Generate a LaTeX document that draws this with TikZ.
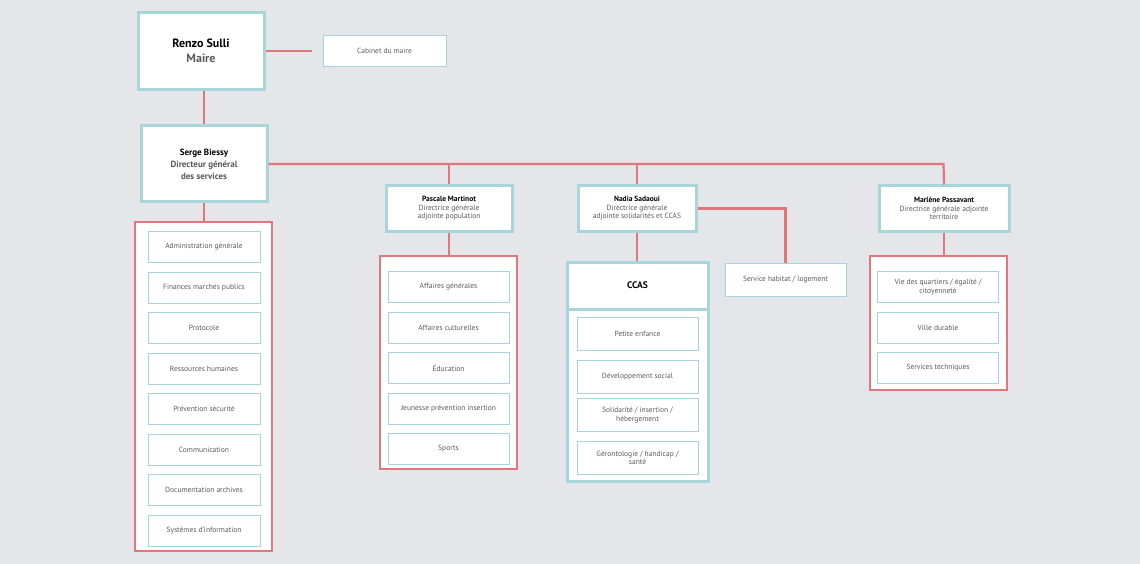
\documentclass[tikz,border=0pt]{standalone}
\usepackage{fontspec}
\setmainfont{PT Sans}
\usetikzlibrary{positioning}
\definecolor{bgc}{HTML}{E5E6EA}
\definecolor{teal}{HTML}{A8D5D9}
\definecolor{redl}{HTML}{DF777C}
\definecolor{txt}{HTML}{5A5A5A}
\tikzset{
    link/.style={draw=redl, line width=2.2pt},
    headbox/.style={draw=teal, line width=3pt, fill=white, align=center, font=\fontsize{7.5}{8.5}\selectfont, text=txt},
    itembox/.style={draw=teal, line width=0.8pt, fill=white, align=center, minimum width=121pt, minimum height=31pt, inner sep=1pt, font=\fontsize{7.5}{8.5}\selectfont, text=txt},
    groupbox/.style={draw=redl, line width=2pt},
}
\begin{document}
\begin{tikzpicture}[x=1pt, y=-1pt]
    \fill[bgc] (0,0) rectangle (1140,564);
    \useasboundingbox (0,0) rectangle (1140,564);
    % top level
    \node[headbox, minimum width=126pt, minimum height=77pt, font=\fontsize{12}{15}\selectfont\bfseries] (maire) at (201,51) {\color{black}Renzo Sulli\\ Maire};
    \node[itembox, minimum width=123pt, minimum height=31pt] (cabinet) at (384.5,50.5) {Cabinet du maire};
    \node[headbox, minimum width=126pt, minimum height=76pt, font=\fontsize{9}{12}\selectfont\bfseries] (dgs) at (204,164) {\color{black}Serge Biessy\\ Directeur général\\ des services};
    \node[headbox, minimum width=126pt, minimum height=45pt] (pop) at (449,208.5) {\textbf{\color{black}Pascale Martinot}\\ Directrice générale\\ adjointe population};
    \node[headbox, minimum width=118pt, minimum height=45pt] (sol) at (637,208.5) {\textbf{\color{black}Nadia Sadaoui}\\ Directrice générale\\ adjointe solidarités et CCAS};
    \node[headbox, minimum width=130pt, minimum height=45pt] (ter) at (944,208.5) {\textbf{\color{black}Marlène Passavant}\\ Directrice générale adjointe\\ territoire};
    \node[itembox, minimum width=121pt, minimum height=33pt] (habitat) at (785.5,279.5) {Service habitat / logement};
    % connectors
    \draw[link] (maire.east) -- ++(46,0) coordinate (cabend);
    \draw[link] (dgs.north |- maire.south) -- (dgs.north);
    \draw[link] (dgs.east) -- ++(675,0) coordinate (hend) -- (ter.north);
    \draw[link] (pop.north |- dgs.east) -- (pop.north);
    \draw[link] (sol.north |- dgs.east) -- (sol.north);
    \draw[link] (sol.east) -- (habitat.north |- sol.east) -- (habitat.north);
    % DGS services
    \draw[groupbox, fill=white] (135,222) rectangle (272,551);
    \draw[link] (dgs.south) -- (204,222);
    \foreach \t [count=\k from 0] in {Administration générale, Finances marchés publics, Protocole, Ressources humaines, Prévention sécurité, Communication, Documentation archives, Systèmes d’information}
        \node[itembox, minimum width=112pt] (dgs\k) at (204,247+40.5*\k) {\t};
    % population
    \draw[groupbox, fill=white] (380,256) rectangle (517,469);
    \draw[link] (pop.south) -- (449,256);
    \foreach \t [count=\k from 0] in {Affaires générales, Affaires culturelles, Éducation, Jeunesse prévention insertion, Sports}
        \node[itembox] (pop\k) at (448.5,287+40.5*\k) {\t};
    % CCAS
    \draw[draw=teal, line width=3pt, fill=white] (567,262) rectangle (708,481);
    \draw[draw=teal, line width=3pt] (567,309) -- (708,309);
    \node[font=\fontsize{9.5}{11}\selectfont\bfseries] (ccas) at (637.5,285.5) {CCAS};
    \draw[link] (sol.south) -- (637,261);
    \foreach \t/\y [count=\k from 0] in {Petite enfance/334, Développement social/377, {Solidarité / insertion /\\ hébergement}/415, {Gérontologie / handicap /\\ santé}/458}
        \node[itembox, minimum height=33pt] (ccas\k) at (637.5,\y) {\t};
    % territoire
    \draw[groupbox, fill=white] (870,256) rectangle (1007,390);
    \draw[link] (ter.south) -- (944,256);
    \foreach \t [count=\k from 0] in {{Vie des quartiers / égalité /\\ citoyenneté}, Ville durable, Services techniques}
        \node[itembox] (ter\k) at (938,287+40.5*\k) {\t};
\end{tikzpicture}
\end{document}
